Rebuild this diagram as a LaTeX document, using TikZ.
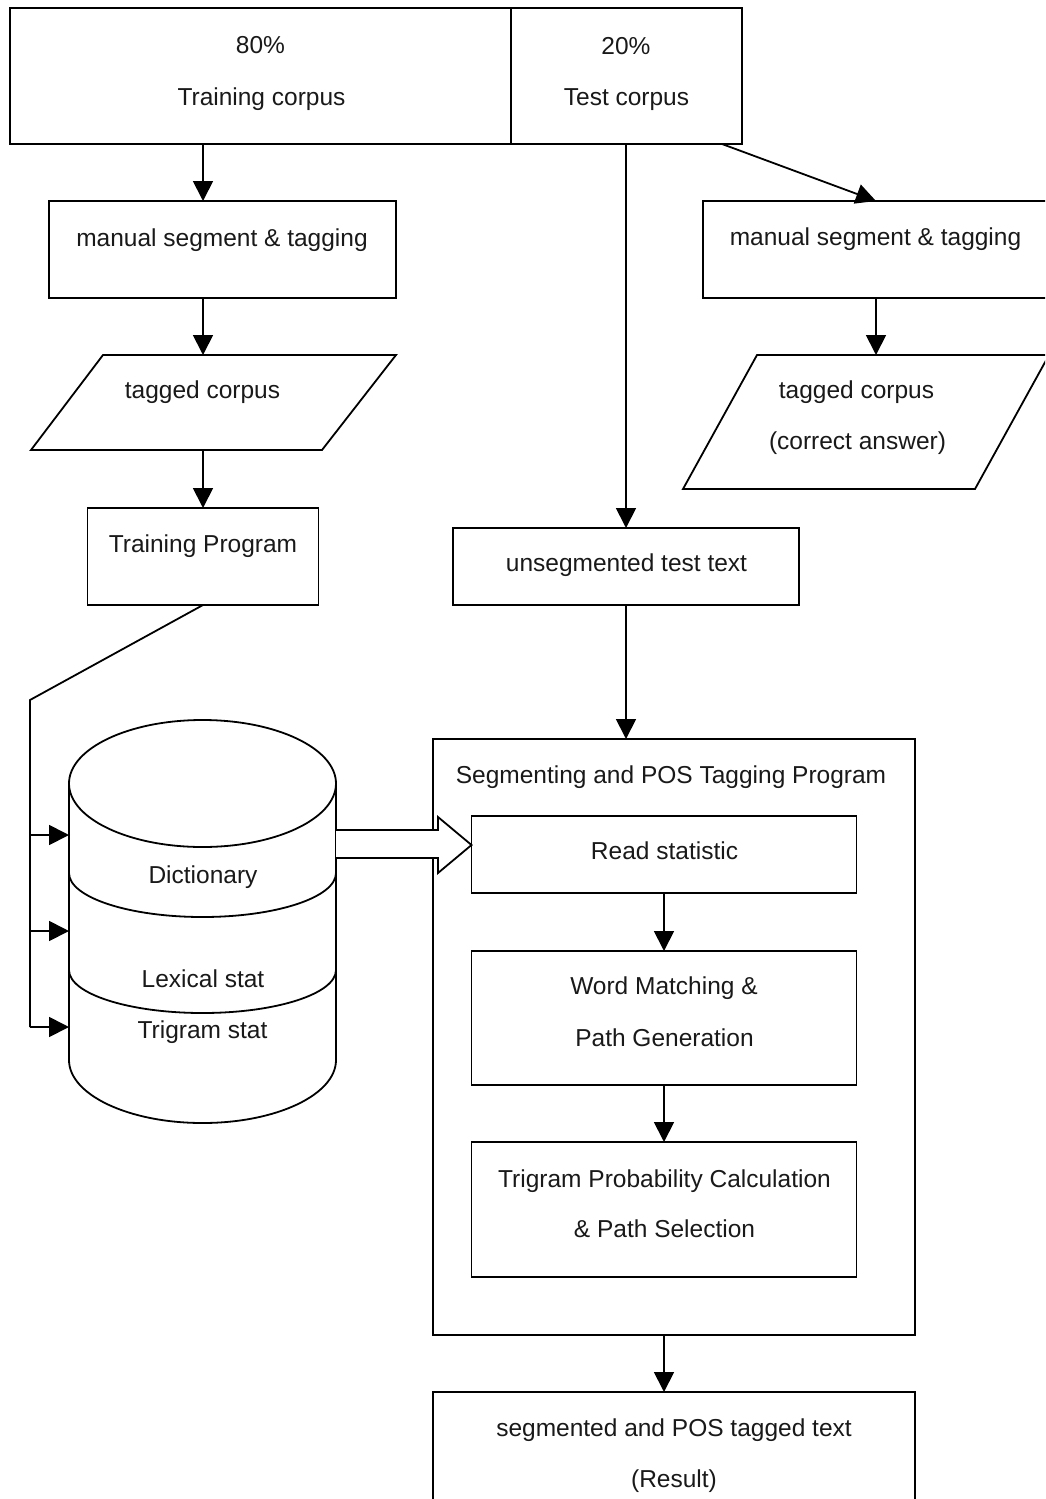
\documentclass[tikz,border=0pt]{standalone}
\usepackage{fontspec}
\setmainfont{Liberation Sans}
\usetikzlibrary{arrows.meta}
\begin{document}
\begin{tikzpicture}[x=1pt,y=1pt,
 ln/.style={line width=1.8pt, line join=miter},
 box/.style={ln, draw, rectangle, inner sep=0pt, outer sep=0pt},
 txt/.style={font=\fontsize{24.5}{29}\selectfont, inner sep=0pt, anchor=base, text=black!90},
 arr/.style={ln, -{Triangle[length=20pt,width=20pt]}},
]
\useasboundingbox (0,0) rectangle (1045,-1499);
\clip (0,0) rectangle (1045,-1499);

% boxes
\node[box, minimum width=501pt, minimum height=136pt] (train) at (260.5,-76) {};
\node[box, minimum width=231pt, minimum height=136pt] (test) at (626.5,-76) {};
\node[box, minimum width=347pt, minimum height=97pt] (man1) at (222.5,-249.5) {};
\node[box, minimum width=231pt, minimum height=97pt] (tp) at (203,-556.5) {};
\node[box, minimum width=346pt, minimum height=77pt] (unseg) at (626,-566.5) {};
\node[box, minimum width=482pt, minimum height=596pt] (big) at (674,-1037) {};
\node[box, minimum width=385pt, minimum height=77pt] (read) at (664,-854.5) {};
\node[box, minimum width=385pt, minimum height=134pt] (wm) at (664,-1018) {};
\node[box, minimum width=385pt, minimum height=135pt] (tpc) at (664,-1209.5) {};
\node[box, minimum width=482pt, minimum height=138pt] (res) at (674,-1461) {};
\node[box, minimum width=346pt, minimum height=97pt] (man2) at (876,-249.5) {};
\node[inner sep=0pt, outer sep=0pt, minimum width=267pt, minimum height=403pt] (db) at (202.5,-921.5) {};

% parallelograms
\draw[ln] (103,-355) -- (396,-355) -- (322,-450) -- (31,-450) -- cycle;
\coordinate (pAtop) at (203,-355);
\coordinate (pAbot) at (203,-450);
\draw[ln] (757,-355) -- (1049,-355) -- (975,-489) -- (683,-489) -- cycle;
\coordinate (pBtop) at (876,-355);

% cylinder
\draw[ln] (202.5,-783.5) ellipse [x radius=133.5, y radius=63.5];
\draw[ln] (69,-783.5) -- (69,-1060) arc[start angle=180,end angle=360,x radius=133.5,y radius=63] -- (336,-783.5);
\draw[ln] (69,-873) arc[start angle=180,end angle=360,x radius=133.5,y radius=44];
\draw[ln] (69,-970) arc[start angle=180,end angle=360,x radius=133.5,y radius=43];

% texts
\node[txt] (t80) at (260.5,-53) {80\%};
\node[txt] (ttrain) at (261.5,-105) {Training corpus};
\node[txt] (t20) at (626,-54) {20\%};
\node[txt] (ttest) at (626.5,-105) {Test corpus};
\node[txt] (tman1) at (222,-246) {manual segment \& tagging};
\node[txt] (tman2) at (875.5,-245) {manual segment \& tagging};
\node[txt] (ttc1) at (202.5,-398) {tagged corpus};
\node[txt] (ttc2) at (856.5,-398) {tagged corpus};
\node[txt] (tca) at (857.5,-449) {(correct answer)};
\node[txt] (ttp) at (203,-552) {Training Program};
\node[txt] (tun) at (626.5,-571) {unsegmented test text};
\node[txt] (tbig) at (671,-783) {Segmenting and POS Tagging Program};
\node[txt] (tread) at (664.5,-859) {Read statistic};
\node[txt] (twm1) at (664,-994) {Word Matching \&};
\node[txt] (twm2) at (664.5,-1046) {Path Generation};
\node[txt] (ttp1) at (664.5,-1187) {Trigram Probability Calculation};
\node[txt] (ttp2) at (664.5,-1237) {\& Path Selection};
\node[txt] (tdict) at (203,-883) {Dictionary};
\node[txt] (tlex) at (203,-987) {Lexical stat};
\node[txt] (ttri) at (202.5,-1038) {Trigram stat};
\node[txt] (tres1) at (674,-1436) {segmented and POS tagged text};
\node[txt] (tres2) at (674,-1487) {(Result)};

% left connectors
\draw[arr] (tp.north |- train.south) -- (tp.north |- man1.north);
\draw[arr] (tp.north |- man1.south) -- (pAtop);
\draw[arr] (pAbot) -- (tp.north);
\coordinate (bend) at (30,-700);
\coordinate (br1) at (30,-835);
\coordinate (br2) at (30,-931);
\coordinate (br3) at (30,-1027);
\draw[ln] (tp.south) -- (bend) -- (br3);
\draw[arr] (br1) -- (br1 -| db.west);
\draw[arr] (br2) -- (br2 -| db.west);
\draw[arr] (br3) -- (br3 -| db.west);

% right connectors
\coordinate (tcorner) at (722,-144);
\draw[arr] (unseg.north |- test.south) -- (unseg.north);
\draw[arr] (tcorner) -- (man2.north);
\draw[arr] (man2.south) -- (pBtop);
\draw[arr] (unseg.south) -- (unseg.south |- big.north);

% hollow arrow
\draw[ln, fill=white] (db.east |- 0,-830) -- (438,-830) -- (438,-817) -- (read.west |- 0,-845) -- (438,-873) -- (438,-858) -- (db.east |- 0,-858);

% inner connectors
\draw[arr] (read.south) -- (wm.north);
\draw[arr] (wm.south) -- (tpc.north);
\draw[arr] (read.south |- big.south) -- (read.south |- res.north);
\end{tikzpicture}
\end{document}
